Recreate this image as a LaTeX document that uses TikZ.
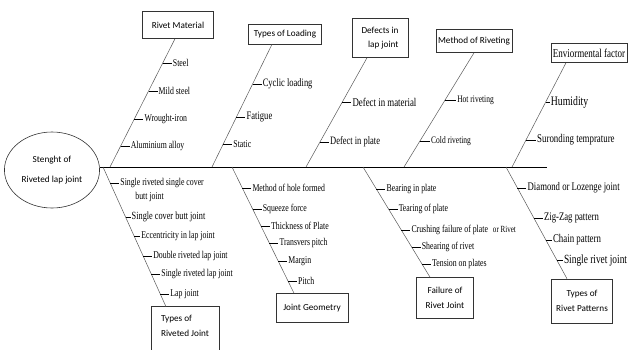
\documentclass[tikz,border=0pt]{standalone}
\usepackage{fontspec}
\setmainfont{Liberation Serif}
\newfontfamily\cond[FakeStretch=0.75]{Liberation Serif}
\newfontfamily\calib{Carlito}
\usetikzlibrary{positioning,shapes.geometric,calc}
\tikzset{
  cause/.style={draw=black!80, line width=0.6pt, font=\calib\fontsize{9.2}{11}\selectfont, inner sep=2pt},
  lbl/.style={font=\cond\fontsize{#1}{#1}\selectfont, inner sep=1pt},
  lbl/.default=10.4,
  bone/.style={draw=black!65, line width=0.5pt},
  twig/.style={draw=black, line width=0.6pt},
}

\begin{document}
\begin{tikzpicture}[x=1pt, y=-1pt]
\useasboundingbox (0,0) rectangle (629,349);
\clip (0,0) rectangle (629,349);
\fill[white] (0,0) rectangle (629,349);

\node[ellipse, draw=black!80, line width=0.6pt, minimum width=92pt, minimum height=76pt, align=center, font=\calib\fontsize{9.2}{11}\selectfont] (root) at (52,170) {Stenght of\\[9pt]Riveted lap joint};
\coordinate (head) at (547,167);
\draw[twig] (root.east |- head) -- (head);

\node[cause, minimum width=71pt, minimum height=27pt] (rm) at (178,25) {Rivet Material};
\node[cause, minimum width=73pt, minimum height=20pt] (tl) at (285,34) {Types of Loading};
\node[cause, minimum width=56pt, minimum height=39pt, align=right] (dl) at (380,38) {Defects in\\[3pt]lap joint};
\node[cause, minimum width=76pt, minimum height=23pt] (mr) at (474,41) {Method of Riveting};
\node[cause, minimum width=72pt, minimum height=19pt, font=\cond\fontsize{12}{12}\selectfont] (ef) at (589,53) {Enviormental factor};
\node[cause, minimum width=72pt, minimum height=29pt] (jg) at (312,308) {Joint Geometry};
\node[cause, minimum width=57pt, minimum height=41pt, align=center] (fr) at (445,298) {Failure of\\[4pt]Rivet Joint};
\node[cause, minimum width=61pt, minimum height=44pt, align=center] (rp) at (582,301) {Types of\\[4pt]Rivet Patterns};
\node[cause, draw=none, minimum width=67pt, minimum height=38pt, align=left] (rj) at (185,326) {Types of\\[4pt]Riveted Joint};
\draw[cause] ([yshift=-20pt]rj.south west) -- (rj.north west) -- (rj.north east) -- ([yshift=-20pt]rj.south east);

\coordinate (rmA) at (110,167); \coordinate (rmB) at ([xshift=-3pt]rm.south);
\coordinate (tlA) at (212,167); \coordinate (tlB) at ([xshift=-13pt]tl.south);
\coordinate (dlA) at (306,167); \coordinate (dlB) at ([xshift=-13pt]dl.south);
\coordinate (mrA) at (404,167); \coordinate (mrB) at (mr.south);
\coordinate (efA) at (512,167); \coordinate (efB) at ([xshift=-23pt]ef.south);
\coordinate (rjA) at (103,167); \coordinate (rjB) at ([xshift=-19pt]rj.north);
\coordinate (jgA) at (232,167); \coordinate (jgB) at ([xshift=-18pt]jg.north);
\coordinate (frA) at (363,167); \coordinate (frB) at ([xshift=-15pt]fr.north);
\coordinate (rpA) at (506,167); \coordinate (rpB) at ([xshift=-15pt]rp.north);
\draw[bone] (rmA) -- (rmB);
\draw[bone] (tlA) -- (tlB);
\draw[bone] (dlA) -- (dlB);
\draw[bone] (mrA) -- (mrB);
\draw[bone] (efA) -- (efB);
\draw[bone] (rjA) -- (rjB);
\draw[bone] (jgA) -- (jgB);
\draw[bone] (frA) -- (frB);
\draw[bone] (rpA) -- (rpB);

\coordinate (rm1) at (intersection cs: first line={(rmA)--(rmB)}, second line={(0,63)--(9,63)});
\coordinate (rm2) at (intersection cs: first line={(rmA)--(rmB)}, second line={(0,91)--(9,91)});
\coordinate (rm3) at (intersection cs: first line={(rmA)--(rmB)}, second line={(0,119)--(9,119)});
\coordinate (rm4) at (intersection cs: first line={(rmA)--(rmB)}, second line={(0,146)--(9,146)});
\node[lbl, right=9pt of rm1] (rmt1) {Steel};
\node[lbl, right=9pt of rm2] (rmt2) {Mild steel};
\node[lbl, right=9pt of rm3] (rmt3) {Wrought-iron};
\node[lbl, right=9pt of rm4] (rmt4) {Aluminium alloy};
\draw[twig] (rm1) -- (rmt1); \draw[twig] (rm2) -- (rmt2);
\draw[twig] (rm3) -- (rmt3); \draw[twig] (rm4) -- (rmt4);

\coordinate (tl1) at (intersection cs: first line={(tlA)--(tlB)}, second line={(0,84)--(9,84)});
\coordinate (tl2) at (intersection cs: first line={(tlA)--(tlB)}, second line={(0,117)--(9,117)});
\coordinate (tl3) at (intersection cs: first line={(tlA)--(tlB)}, second line={(0,144)--(9,144)});
\node[lbl=11.3, right=9pt of tl1] (tlt1) {Cyclic loading};
\node[lbl=11.4, right=9pt of tl2] (tlt2) {Fatigue};
\node[lbl, right=9pt of tl3] (tlt3) {Static};
\draw[twig] (tl1) -- (tlt1); \draw[twig] (tl2) -- (tlt2); \draw[twig] (tl3) -- (tlt3);

\coordinate (dl1) at (intersection cs: first line={(dlA)--(dlB)}, second line={(0,102)--(9,102)});
\coordinate (dl2) at (intersection cs: first line={(dlA)--(dlB)}, second line={(0,142)--(9,142)});
\node[lbl=11.8, right=9pt of dl1] (dlt1) {Defect in material};
\node[lbl=11.3, right=9pt of dl2] (dlt2) {Defect in plate};
\draw[twig] (dl1) -- (dlt1); \draw[twig] (dl2) -- (dlt2);

\coordinate (mr1) at (intersection cs: first line={(mrA)--(mrB)}, second line={(0,100)--(9,100)});
\coordinate (mr2) at (intersection cs: first line={(mrA)--(mrB)}, second line={(0,141)--(9,141)});
\node[lbl=10, right=11pt of mr1] (mrt1) {Hot riveting};
\node[lbl=10, right=10pt of mr2] (mrt2) {Cold riveting};
\draw[twig] (mr1) -- (mrt1); \draw[twig] (mr2) -- (mrt2);

\coordinate (ef1) at (intersection cs: first line={(efA)--(efB)}, second line={(0,102)--(9,102)});
\coordinate (ef2) at (intersection cs: first line={(efA)--(efB)}, second line={(0,140)--(9,140)});
\node[lbl=13, right=4pt of ef1] (eft1) {Humidity};
\node[lbl=11.8, right=10pt of ef2] (eft2) {Suronding temprature};
\draw[twig] (ef1) -- (eft1); \draw[twig] (ef2) -- (eft2);

\coordinate (rj1) at (intersection cs: first line={(rjA)--(rjB)}, second line={(0,183)--(9,183)});
\coordinate (rj2) at (intersection cs: first line={(rjA)--(rjB)}, second line={(0,217)--(9,217)});
\coordinate (rj3) at (intersection cs: first line={(rjA)--(rjB)}, second line={(0,236)--(9,236)});
\coordinate (rj4) at (intersection cs: first line={(rjA)--(rjB)}, second line={(0,256)--(9,256)});
\coordinate (rj5) at (intersection cs: first line={(rjA)--(rjB)}, second line={(0,274)--(9,274)});
\coordinate (rj6) at (intersection cs: first line={(rjA)--(rjB)}, second line={(0,294)--(9,294)});
\node[lbl, right=9pt of rj1] (rjt1) {Single riveted single cover};
\node[lbl, anchor=north west] (rjt1b) at ([xshift=15pt, yshift=-2pt]rjt1.south west) {butt joint};
\node[lbl=11, right=5pt of rj2] (rjt2) {Single cover butt joint};
\node[lbl, right=6pt of rj3] (rjt3) {Eccentricity in lap joint};
\node[lbl, right=9pt of rj4] (rjt4) {Double riveted lap joint};
\node[lbl, right=9pt of rj5] (rjt5) {Single riveted lap joint};
\node[lbl, right=9pt of rj6] (rjt6) {Lap joint};
\draw[twig] (rj1) -- (rjt1); \draw[twig] (rj2) -- (rjt2); \draw[twig] (rj3) -- (rjt3);
\draw[twig] (rj4) -- (rjt4); \draw[twig] (rj5) -- (rjt5); \draw[twig] (rj6) -- (rjt6);

\coordinate (jg1) at (intersection cs: first line={(jgA)--(jgB)}, second line={(0,188)--(9,188)});
\coordinate (jg2) at (intersection cs: first line={(jgA)--(jgB)}, second line={(0,209)--(9,209)});
\coordinate (jg3) at (intersection cs: first line={(jgA)--(jgB)}, second line={(0,226)--(9,226)});
\coordinate (jg4) at (intersection cs: first line={(jgA)--(jgB)}, second line={(0,243)--(9,243)});
\coordinate (jg5) at (intersection cs: first line={(jgA)--(jgB)}, second line={(0,261)--(9,261)});
\coordinate (jg6) at (intersection cs: first line={(jgA)--(jgB)}, second line={(0,281)--(9,281)});
\node[lbl, right=9pt of jg1] (jgt1) {Method of hole formed};
\node[lbl, right=9pt of jg2] (jgt2) {Squeeze force};
\node[lbl, right=9pt of jg3] (jgt3) {Thickness of Plate};
\node[lbl, right=9pt of jg4] (jgt4) {Transvers pitch};
\node[lbl, right=9pt of jg5] (jgt5) {Margin};
\node[lbl, right=9pt of jg6] (jgt6) {Pitch};
\draw[twig] (jg1) -- (jgt1); \draw[twig] (jg2) -- (jgt2); \draw[twig] (jg3) -- (jgt3);
\draw[twig] (jg4) -- (jgt4); \draw[twig] (jg5) -- (jgt5); \draw[twig] (jg6) -- (jgt6);

\coordinate (fr1) at (intersection cs: first line={(frA)--(frB)}, second line={(0,189)--(9,189)});
\coordinate (fr2) at (intersection cs: first line={(frA)--(frB)}, second line={(0,209)--(9,209)});
\coordinate (fr3) at (intersection cs: first line={(frA)--(frB)}, second line={(0,230)--(9,230)});
\coordinate (fr4) at (intersection cs: first line={(frA)--(frB)}, second line={(0,247)--(9,247)});
\coordinate (fr5) at (intersection cs: first line={(frA)--(frB)}, second line={(0,264)--(9,264)});
\node[lbl, right=9pt of fr1] (frt1) {Bearing in plate};
\node[lbl, right=9pt of fr2] (frt2) {Tearing of plate};
\node[lbl, right=9pt of fr3] (frt3) {Crushing failure of plate\hspace{5pt}{\fontsize{9.4}{9.4}\selectfont or Rivet}};
\node[lbl, right=9pt of fr4] (frt4) {Shearing of rivet};
\node[lbl, right=9pt of fr5] (frt5) {Tension on plates};
\draw[twig] (fr1) -- (frt1); \draw[twig] (fr2) -- (frt2); \draw[twig] (fr3) -- (frt3);
\draw[twig] (fr4) -- (frt4); \draw[twig] (fr5) -- (frt5);

\coordinate (rp1) at (intersection cs: first line={(rpA)--(rpB)}, second line={(0,188)--(9,188)});
\coordinate (rp2) at (intersection cs: first line={(rpA)--(rpB)}, second line={(0,218)--(9,218)});
\coordinate (rp3) at (intersection cs: first line={(rpA)--(rpB)}, second line={(0,240)--(9,240)});
\coordinate (rp4) at (intersection cs: first line={(rpA)--(rpB)}, second line={(0,260)--(9,260)});
\node[lbl=11.6, right=9pt of rp1] (rpt1) {Diamond or Lozenge joint};
\node[lbl=11.6, right=9pt of rp2] (rpt2) {Zig-Zag pattern};
\node[lbl=11.8, right=6pt of rp3] (rpt3) {Chain pattern};
\node[lbl=12.5, right=6pt of rp4] (rpt4) {Single rivet joint};
\draw[twig] (rp1) -- (rpt1); \draw[twig] (rp2) -- (rpt2);
\draw[twig] (rp3) -- (rpt3); \draw[twig] (rp4) -- (rpt4);
\end{tikzpicture}
\end{document}
